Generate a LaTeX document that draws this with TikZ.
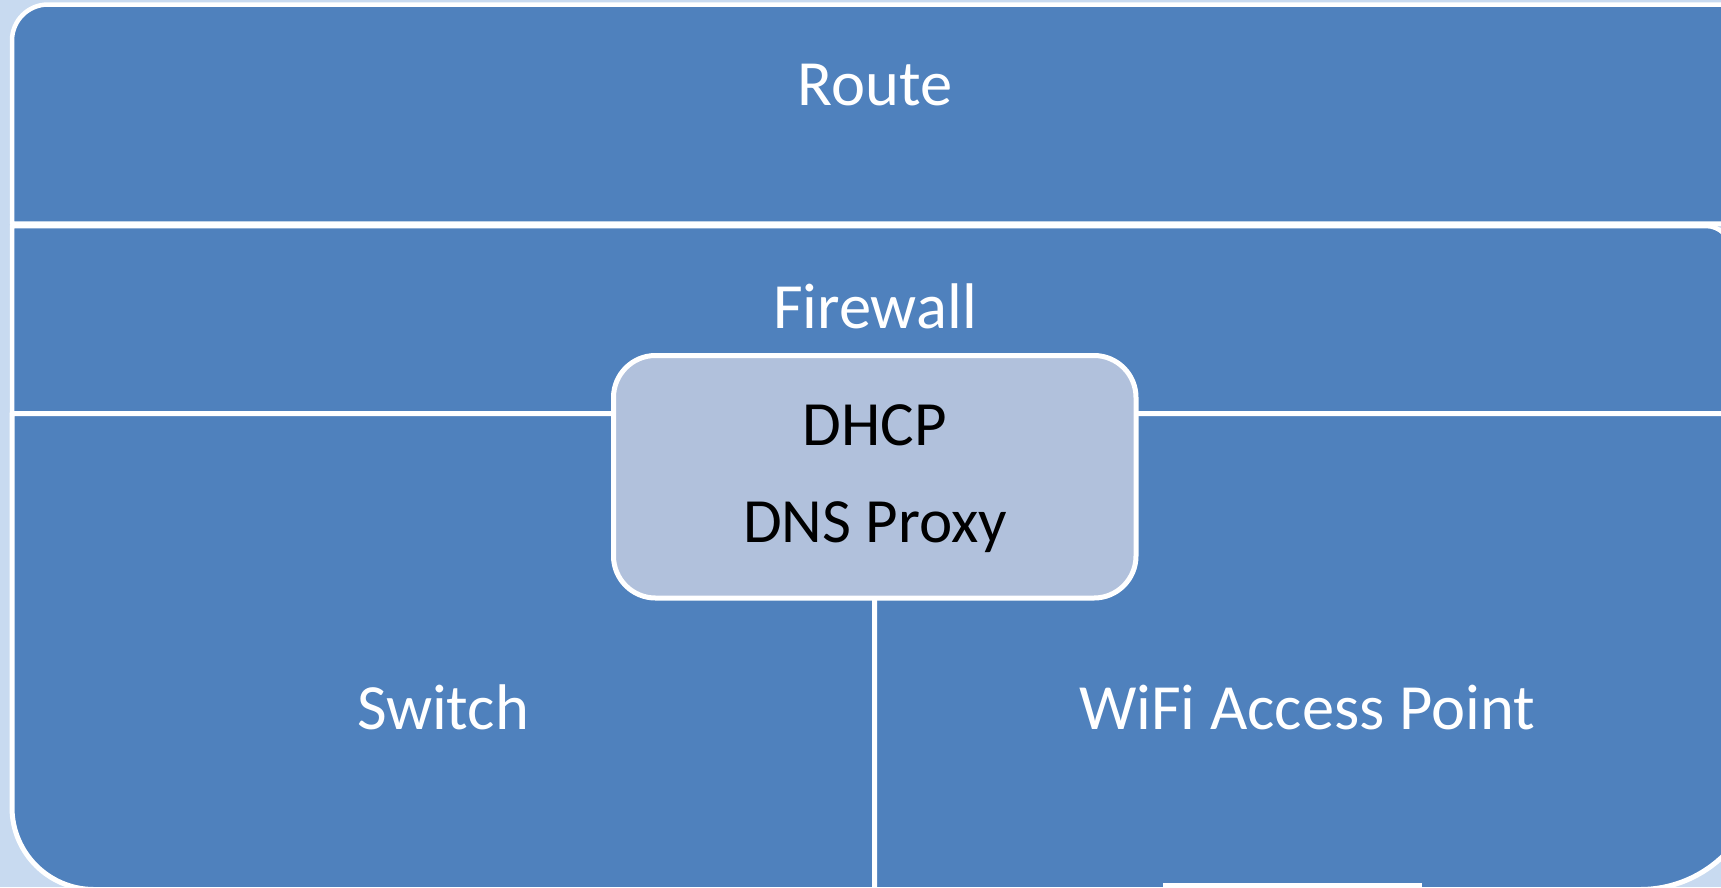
\documentclass[tikz,border=0pt]{standalone}
\usepackage{fontspec}
\setmainfont{Carlito}
\definecolor{bgblue}{RGB}{200,218,240}
\definecolor{panelblue}{RGB}{79,129,189}
\definecolor{boxblue}{RGB}{177,193,220}
\begin{document}
\begin{tikzpicture}[x=1pt,y=-1pt,
  panel/.style={fill=panelblue, draw=white, line width=4.5pt, line join=round},
  lbl/.style={text=white, font=\fontsize{64.5}{70}\selectfont, anchor=base, inner sep=0pt},
  boxlbl/.style={text=black, font=\fontsize{63}{68}\selectfont, anchor=base, inner sep=0pt},
  svcbox/.style={fill=boxblue, draw=white, line width=5pt, rounded corners=42pt}]
\useasboundingbox (0,0) rectangle (1721,887);
\clip (0,0) rectangle (1721,887);
\fill[bgblue] (0,0) rectangle (1721,887);
% Route
\draw[panel] (12,223.5) [rounded corners=36pt] -- (12,4.5) [sharp corners] -- (1790,4.5) -- (1790,223.5) -- cycle;
% Firewall
\draw[panel] (12,413.5) -- (12,226) [rounded corners=25pt] -- (1731,226) [sharp corners] -- (1731,413.5) -- cycle;
% Switch
\draw[panel, line width=5pt] (874.5,413.5) -- (12,413.5) [rounded corners=82pt] -- (12,889.5) [sharp corners] -- (874.5,889.5) -- cycle;
% WiFi
\draw[panel, line width=5pt] (874.5,889.5) -- (874.5,413.5) -- (1760,413.5) [rounded corners=120pt] -- (1760,889.5) [sharp corners] -- (874.5,889.5) -- cycle;
\fill[white] (1163,883) rectangle (1422,887);
% DHCP / DNS box
\draw[svcbox] (613.5,355.5) rectangle (1136,598);
\node[lbl] (route) at (875,105.4) {Route};
\node[lbl] (firewall) at (875,328) {Firewall};
\node[boxlbl] (dhcp) at (875,445.6) {DHCP};
\node[boxlbl] (dns) at (875,542) {DNS Proxy};
\node[lbl] (switch) at (443,729) {Switch};
\node[lbl] (wifi) at (1307,729) {WiFi Access Point};
\end{tikzpicture}
\end{document}
